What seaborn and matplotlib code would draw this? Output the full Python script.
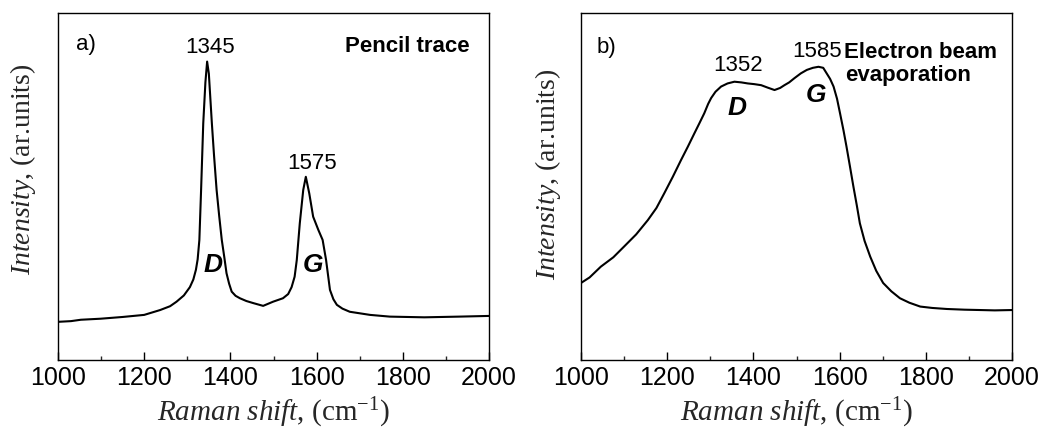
import matplotlib
matplotlib.use("Agg")
import matplotlib.pyplot as plt
from matplotlib.ticker import MultipleLocator
import pandas as pd
import seaborn as sns

# Panel a) pencil trace (arb. units)
shift_a = [1000, 1030, 1053, 1099, 1150, 1200, 1237, 1260, 1275, 1292, 1306, 1314,
           1320, 1324, 1328, 1332, 1337, 1342, 1346, 1350, 1357, 1362, 1368, 1374,
           1380, 1386, 1391, 1397, 1403, 1412, 1422, 1437, 1453, 1476, 1499, 1522,
           1534, 1542, 1549, 1554, 1561, 1569, 1575, 1583, 1592, 1604, 1614, 1622,
           1631, 1639, 1647, 1660, 1677, 1724, 1770, 1850, 1930, 2000]
inten_a = [11.0, 11.2, 11.6, 11.9, 12.4, 13.0, 14.4, 15.5, 16.8, 18.6, 21.0, 23.2,
           26.0, 29.0, 34.6, 49.0, 68.2, 80.0, 86.0, 82.5, 68.2, 59.0, 49.0, 41.5,
           34.6, 29.5, 25.0, 22.0, 19.7, 18.5, 17.8, 17.0, 16.4, 15.6, 16.8, 17.8,
           19.0, 21.0, 24.0, 28.8, 39.4, 49.0, 52.8, 48.0, 41.3, 37.5, 34.6, 28.8,
           20.2, 17.5, 15.9, 14.8, 13.9, 13.0, 12.5, 12.3, 12.5, 12.7]

# Panel b) electron beam evaporation
shift_b = [1000, 1020, 1046, 1075, 1100, 1128, 1155, 1175, 1193, 1213, 1232, 1248,
           1263, 1275, 1286, 1295, 1302, 1312, 1325, 1340, 1356, 1372, 1387, 1402,
           1418, 1433, 1449, 1462, 1472, 1483, 1495, 1510, 1524, 1538, 1551, 1562,
           1570, 1578, 1586, 1594, 1601, 1609, 1616, 1624, 1632, 1640, 1647, 1658,
           1671, 1685, 1701, 1720, 1740, 1762, 1787, 1815, 1849, 1890, 1926, 1960, 2000]
inten_b = [22.2, 23.8, 26.9, 29.6, 32.7, 36.2, 40.3, 43.8, 48.0, 52.8, 57.6, 61.5,
           65.3, 68.3, 71.1, 73.8, 75.5, 77.3, 78.8, 79.7, 80.2, 80.0, 79.7, 79.5,
           79.2, 78.5, 77.8, 78.4, 79.2, 80.0, 81.2, 82.6, 83.6, 84.2, 84.5, 84.2,
           82.6, 81.0, 78.8, 75.3, 71.1, 66.2, 61.5, 55.8, 50.0, 44.5, 39.4, 34.3,
           29.8, 25.7, 22.2, 19.8, 17.8, 16.5, 15.4, 15.0, 14.7, 14.5, 14.4, 14.3, 14.4]

sns.set_theme(style="ticks")
plt.rcParams.update({
    "font.family": ["Liberation Sans", "DejaVu Sans"],
    "mathtext.fontset": "custom",
    "mathtext.rm": "Liberation Serif",
    "mathtext.it": "Liberation Serif:italic",
    "axes.edgecolor": "black",
    "axes.linewidth": 1.0,
})

fig = plt.figure(figsize=(10.42, 4.28), dpi=100)
W, H = 1042, 428
ax_a = fig.add_axes([58 / W, (H - 360) / H, 431 / W, 347 / H])
ax_b = fig.add_axes([581 / W, (H - 360) / H, 431 / W, 347 / H])

panels = [(ax_a, shift_a, inten_a, -0.082, 0.55), (ax_b, shift_b, inten_b, -0.077, 0.535)]
for ax, xs, ys, ylx, yly in panels:
    df = pd.DataFrame({"shift": xs, "intensity": ys})
    sns.lineplot(data=df, x="shift", y="intensity", ax=ax, color="black", linewidth=1.5)
    ax.set_xlim(1000, 2000)
    ax.set_ylim(0, 100)
    ax.set_yticks([])
    ax.xaxis.set_major_locator(MultipleLocator(200))
    ax.xaxis.set_minor_locator(MultipleLocator(100))
    ax.tick_params(axis="x", which="major", direction="in", length=6, width=1,
                   labelsize=18, pad=4, top=False, bottom=True, colors="black")
    ax.tick_params(axis="x", which="minor", direction="in", length=3, width=1,
                   top=False, bottom=True)
    for s in ax.spines.values():
        s.set_visible(True)
        s.set_color("black")
    ax.set_xlabel(r"$\mathit{Raman\ shift}$, (cm$^{-1}$)", fontsize=21,
                  fontfamily="Liberation Serif", va="center")
    ax.set_ylabel(r"$\mathit{Intensity}$, (ar.units)", fontsize=20,
                  fontfamily="Liberation Serif", va="center")
    ax.xaxis.set_label_coords(0.5, -0.152)
    ax.yaxis.set_label_coords(ylx, yly)

txt = dict(fontsize=16, color="black")
lab = dict(fontsize=19, fontweight="bold", style="italic", ha="center", va="center", color="black")

# annotations panel a
ax_a.text(1042, 90.8, "a)", ha="left", va="center", **txt)
ax_a.text(1956, 90.3, "Pencil trace", fontweight="bold", ha="right", va="center", **txt)
ax_a.text(1352, 90.0, "1345", ha="center", va="center", **txt)
ax_a.text(1589, 56.7, "1575", ha="center", va="center", **txt)
ax_a.text(1360, 27.4, "D", **lab)
ax_a.text(1591, 27.4, "G", **lab)

# annotations panel b
ax_b.text(1035, 90.2, "b)", ha="left", va="center", **txt)
ax_b.text(1365, 85.0, "1352", ha="center", va="center", **txt)
ax_b.text(1548, 88.8, "1585", ha="center", va="center", **txt)
ax_b.text(1610, 88.6, "Electron beam", fontweight="bold", ha="left", va="center", **txt)
ax_b.text(1612, 82.0, "evaporation", fontweight="bold", ha="left", va="center", **txt)
ax_b.text(1361, 72.6, "D", **lab)
ax_b.text(1545, 76.4, "G", **lab)

fig.savefig("out.png", dpi=100, facecolor="white")
